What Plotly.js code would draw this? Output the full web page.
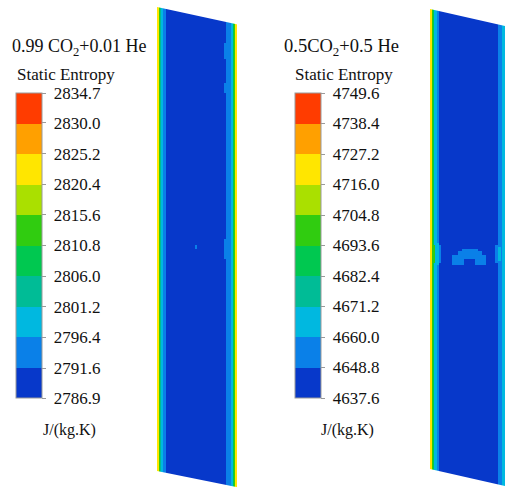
<!DOCTYPE html>
<html>
<head>
<meta charset="utf-8">
<script src="https://cdn.plot.ly/plotly-3.0.1.min.js"></script>
<style>
  body { margin: 0; background: #fff; }
  #chart { width: 505px; height: 488px; }
</style>
</head>
<body>
<div id="chart"></div>
<script>
// contour bands, lowest to highest
var bandColors = ['#0738ca', '#0a80e8', '#00b8e0', '#00bc96', '#00c850',
                  '#30cc10', '#aae000', '#ffe600', '#ffa000', '#ff3c00'];

// case 1: 0.99 CO2 + 0.01 He
var leftTicks = [2786.9, 2791.6, 2796.4, 2801.2, 2806.0, 2810.8, 2815.6, 2820.4, 2825.2, 2830.0, 2834.7];
var leftTickText = ['2786.9', '2791.6', '2796.4', '2801.2', '2806.0', '2810.8', '2815.6', '2820.4', '2825.2', '2830.0', '2834.7'];
var leftCore = 2789.0;
var leftWallIn = [2823, 2822, 2812, 2805, 2799, 2798, 2794, 2794, 2793];
var leftWallOut = [2793, 2793, 2794, 2794, 2795, 2799, 2800, 2810, 2813, 2822, 2823];
// local spots: [yFrom, yTo, colFrom, colTo, value]
var leftSpots = [
  [44, 58, 67, 69, 2794],
  [84, 92, 67, 69, 2794],
  [240, 258, 67, 69, 2794],
  [246, 249, 38, 40, 2794]
];

// case 2: 0.5 CO2 + 0.5 He
var rightTicks = [4637.6, 4648.8, 4660.0, 4671.2, 4682.4, 4693.6, 4704.8, 4716.0, 4727.2, 4738.4, 4749.6];
var rightTickText = ['4637.6', '4648.8', '4660.0', '4671.2', '4682.4', '4693.6', '4704.8', '4716.0', '4727.2', '4738.4', '4749.6'];
var rightCore = 4643.0;
var rightWallIn = [4721, 4719, 4700, 4688, 4666, 4664, 4662, 4655, 4653];
var rightWallOut = [4654, 4654, 4655, 4656, 4665, 4664, 4666, 4690, 4700, 4720, 4721];
var rightSpots = [
  [246, 262, 2, 5, 4700],
  [244, 264, 5, 9, 4665],
  [246, 262, 9, 11, 4654],
  [246, 262, 65, 68, 4654],
  [248, 260, 68, 71, 4665],
  [249, 252, 32, 48, 4654],
  [252, 256, 28, 52, 4654],
  [256, 259, 22, 56, 4654],
  [259, 264, 22, 34, 4654],
  [259, 264, 45, 56, 4654]
];

var W = 505, H = 488;
var nRows = 241;

function buildField(wallIn, core, coreCols, wallOut, spots) {
  var base = wallIn.slice();
  for (var i = 0; i < coreCols; i++) base.push(core);
  base = base.concat(wallOut);
  var z = [], ys = [];
  for (var r = 0; r < nRows; r++) {
    var yc = 8 + 2 * r;
    ys.push(yc);
    var line = base.slice();
    spots.forEach(function (s) {
      if (yc >= s[0] && yc <= s[1]) {
        for (var c = s[2]; c < s[3]; c++) line[c] = s[4];
      }
    });
    z.push(line);
  }
  var xs = base.map(function (_, i) { return i + 0.5; });
  return { x: xs, y: ys, z: z };
}

function bandScale(colors) {
  var cs = [];
  var n = colors.length;
  colors.forEach(function (c, i) {
    cs.push([i / n, c]);
    cs.push([(i + 1) / n, c]);
  });
  return cs;
}

function colorbarAt(xPx, ticks, labels) {
  return {
    x: xPx / W, xanchor: 'left', xref: 'paper',
    y: 1 - 245.5 / H, yanchor: 'middle',
    len: 305, lenmode: 'pixels',
    thickness: 26, thicknessmode: 'pixels',
    xpad: 0, ypad: 0,
    outlinewidth: 1, outlinecolor: '#9a9a9a',
    tickmode: 'array', tickvals: ticks,
    // no-break space pushes labels a little off the tick marks
    ticktext: labels.map(function (s) { return '\u00a0' + s; }),
    ticks: 'outside', ticklen: 4, tickwidth: 1, tickcolor: '#9a9a9a',
    tickfont: { family: 'Liberation Serif', size: 17, color: '#111' }
  };
}

var leftField = buildField(leftWallIn, leftCore, 60, leftWallOut, leftSpots);
var rightField = buildField(rightWallIn, rightCore, 59, rightWallOut, rightSpots);

var data = [
  {
    type: 'heatmap', x: leftField.x, y: leftField.y, z: leftField.z,
    xaxis: 'x', yaxis: 'y',
    zmin: leftTicks[0], zmax: leftTicks[leftTicks.length - 1],
    colorscale: bandScale(bandColors), zsmooth: false, hoverinfo: 'skip',
    colorbar: colorbarAt(16, leftTicks, leftTickText)
  },
  {
    type: 'heatmap', x: rightField.x, y: rightField.y, z: rightField.z,
    xaxis: 'x2', yaxis: 'y',
    zmin: rightTicks[0], zmax: rightTicks[rightTicks.length - 1],
    colorscale: bandScale(bandColors), zsmooth: false, hoverinfo: 'skip',
    colorbar: colorbarAt(295, rightTicks, rightTickText)
  }
];

// white masks give the strips their slanted ends
function maskPath(pts) {
  return pts.map(function (p, i) {
    return (i ? 'L' : 'M') + (p[0] / W).toFixed(5) + ',' + (1 - p[1] / H).toFixed(5);
  }).join(' ') + ' Z';
}
function mask(pts) {
  return { type: 'path', xref: 'paper', yref: 'paper', path: maskPath(pts),
           fillcolor: '#ffffff', line: { width: 0 }, layer: 'above' };
}

var serif = 'Liberation Serif';
function label(text, xPx, yPx, anchor, size) {
  return { text: text, x: xPx / W, y: 1 - yPx / H, xref: 'paper', yref: 'paper',
           xanchor: anchor, yanchor: 'middle', showarrow: false,
           font: { family: serif, size: size, color: '#111' } };
}

var layout = {
  width: W, height: H,
  margin: { l: 0, r: 0, t: 0, b: 0 },
  paper_bgcolor: '#fff', plot_bgcolor: 'rgba(0,0,0,0)',
  showlegend: false,
  xaxis: { domain: [157 / W, 237 / W], range: [0, 80], visible: false, fixedrange: true },
  xaxis2: { domain: [430 / W, 1], range: [0, 75], visible: false, anchor: 'y', fixedrange: true },
  yaxis: { domain: [0, 1], range: [488, 0], visible: false, fixedrange: true },
  shapes: [
    mask([[155, 0], [240, 0], [240, 25], [157, 7], [155, 7]]),
    mask([[155, 471], [157, 471], [240, 487.7], [240, 490], [155, 490]]),
    mask([[428, 0], [510, 0], [510, 27.1], [430, 9], [428, 9]]),
    mask([[428, 469], [430, 469], [510, 487.1], [510, 490], [428, 490]])
  ],
  annotations: [
    label('0.99 CO<sub>2</sub>+0.01 He', 10, 47, 'left', 18),
    label('Static Entropy', 15, 74, 'left', 17),
    label('J/(kg.K)', 69, 430, 'center', 16),
    label('0.5CO<sub>2</sub>+0.5 He', 282, 47, 'left', 18.5),
    label('Static Entropy', 293, 74, 'left', 17),
    label('J/(kg.K)', 347, 430, 'center', 16)
  ]
};

Plotly.newPlot('chart', data, layout, { displayModeBar: false, staticPlot: true });
</script>
</body>
</html>
